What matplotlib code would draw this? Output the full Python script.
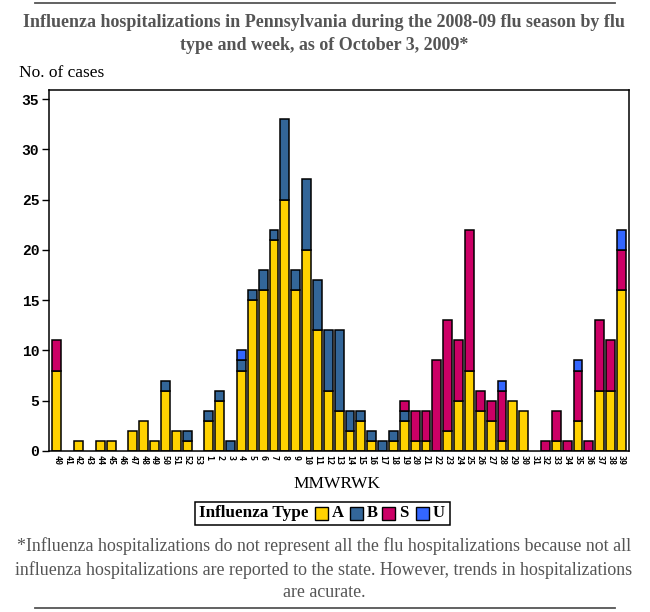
import matplotlib.pyplot as plt
from matplotlib.patches import Rectangle
from matplotlib.lines import Line2D

# MMWR weeks, 2008 weeks 40-53 then 2009 weeks 1-39
weeks = [str(w) for w in range(40, 54)] + [str(w) for w in range(1, 40)]

type_a = [8, 0, 1, 0, 1, 1, 0, 2, 3, 1, 6, 2, 1, 0,
          3, 5, 0, 8, 15, 16, 21, 25, 16, 20, 12, 6, 4, 2, 3, 1, 0, 1, 3, 1,
          1, 0, 2, 5, 8, 4, 3, 1, 5, 4, 0, 0, 1, 0, 3, 0, 6, 6, 16]
type_b = [0, 0, 0, 0, 0, 0, 0, 0, 0, 0, 1, 0, 1, 0,
          1, 1, 1, 1, 1, 2, 1, 8, 2, 7, 5, 6, 8, 2, 1, 1, 1, 1, 1, 0,
          0, 0, 0, 0, 0, 0, 0, 0, 0, 0, 0, 0, 0, 0, 0, 0, 0, 0, 0]
type_s = [3, 0, 0, 0, 0, 0, 0, 0, 0, 0, 0, 0, 0, 0,
          0, 0, 0, 0, 0, 0, 0, 0, 0, 0, 0, 0, 0, 0, 0, 0, 0, 0, 1, 3,
          3, 9, 11, 6, 14, 2, 2, 5, 0, 0, 0, 1, 3, 1, 5, 1, 7, 5, 4]
type_u = [0, 0, 0, 0, 0, 0, 0, 0, 0, 0, 0, 0, 0, 0,
          0, 0, 0, 1, 0, 0, 0, 0, 0, 0, 0, 0, 0, 0, 0, 0, 0, 0, 0, 0,
          0, 0, 0, 0, 0, 0, 0, 1, 0, 0, 0, 0, 0, 0, 1, 0, 0, 0, 2]

type_names = ['A', 'B', 'S', 'U']
type_colors = ['#FFD200', '#336699', '#CC0066', '#3366FF']

W, H = 650, 612
fig = plt.figure(figsize=(6.5, 6.12), dpi=100)


def fx(px):
    return px / W


def fy(py):
    return 1 - py / H


ax = fig.add_axes([fx(49), fy(451), fx(629) - fx(49), fy(90) - fy(451)])

# stacked bars, skipping empty segments
x = list(range(len(weeks)))
bottom = [0] * len(weeks)
for vals, col in zip([type_a, type_b, type_s, type_u], type_colors):
    bars_x = [xi for xi, v in zip(x, vals) if v > 0]
    bars_h = [v for v in vals if v > 0]
    bars_b = [b for b, v in zip(bottom, vals) if v > 0]
    ax.bar(bars_x, bars_h, bottom=bars_b, width=0.82, color=col,
           edgecolor='black', linewidth=1.1)
    bottom = [b + v for b, v in zip(bottom, vals)]

ax.set_xlim(-0.72, len(weeks) - 1 + 0.7)
ax.set_ylim(0, 35.9)
ax.set_yticks(range(0, 36, 5))
ax.set_xticks(x)
ax.set_xticklabels(weeks, rotation=270, fontsize=6, fontweight='bold',
                   family='DejaVu Sans Mono')
ax.tick_params(axis='x', length=0, pad=3)
ax.tick_params(axis='y', length=5, width=1, labelsize=10.5, pad=2)
for lab in ax.get_yticklabels():
    lab.set_family('Liberation Mono')
    lab.set_fontweight('bold')
for sp in ax.spines.values():
    sp.set_linewidth(1.1)

serif = 'Liberation Serif'
title = ('Influenza hospitalizations in Pennsylvania during the 2008-09 flu season by flu\n'
         'type and week, as of October 3, 2009*')
fig.text(fx(324), fy(34), title, ha='center', va='center', family=serif,
         fontweight='bold', fontsize=13, color='#555555', linespacing=1.45)
fig.text(fx(19), fy(73), 'No. of cases', ha='left', va='center', family=serif,
         fontsize=12.5, color='black')
fig.text(fx(337), fy(484), 'MMWRWK', ha='center', va='center', family=serif,
         fontsize=12.5, color='black')

# legend box
fig.patches.append(Rectangle((fx(195), fy(525)), fx(450) - fx(195), fy(502) - fy(525),
                             transform=fig.transFigure, fill=False,
                             edgecolor='black', linewidth=1.1))
fig.text(fx(199), fy(513), 'Influenza Type', ha='left', va='center', family=serif,
         fontweight='bold', fontsize=12.3)
sq_x = [315, 350, 382, 416]
for sx, name, col in zip(sq_x, type_names, type_colors):
    fig.patches.append(Rectangle((fx(sx), fy(520)), fx(13), fy(507) - fy(520),
                                 transform=fig.transFigure, facecolor=col,
                                 edgecolor='black', linewidth=1))
    fig.text(fx(sx + 17), fy(513), name, ha='left', va='center', family=serif,
             fontweight='bold', fontsize=12)

note = ('*Influenza hospitalizations do not represent all the flu hospitalizations because not all\n'
        'influenza hospitalizations are reported to the state. However, trends in hospitalizations\n'
        'are acurate.')
fig.text(fx(324), fy(569), note, ha='center', va='center', family=serif,
         fontsize=12.9, color='#555555', linespacing=1.4)

for ly in [3, 608]:
    fig.lines.append(Line2D([fx(35), fx(615)], [fy(ly), fy(ly)],
                            transform=fig.transFigure, color='#555555', linewidth=1.3))

fig.savefig('out.png', dpi=100)
